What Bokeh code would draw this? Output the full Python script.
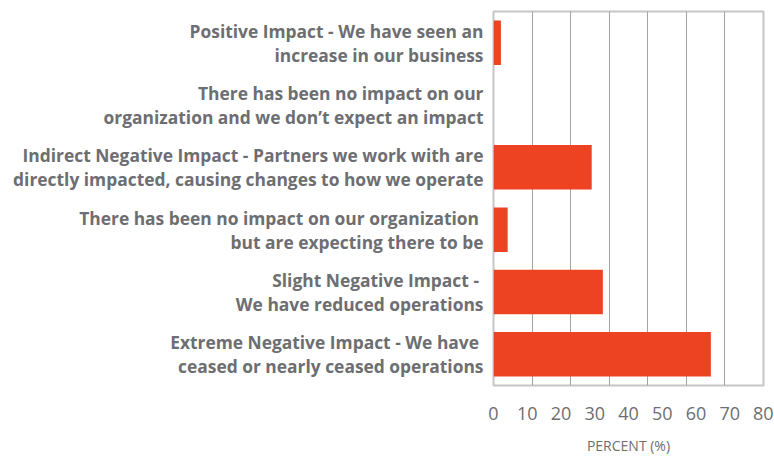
from bokeh.plotting import figure
from bokeh.models import FactorRange, Range1d, FixedTicker, ColumnDataSource
from bokeh.embed import file_html
from bokeh.resources import INLINE

# Data (top to bottom as shown)
categories = [
    "Positive Impact - We have seen an\nincrease in our business",
    "There has been no impact on our\norganization and we don\u2019t expect an impact",
    "Indirect Negative Impact - Partners we work with are\ndirectly impacted, causing changes to how we operate",
    "There has been no impact on our organization \nbut are expecting there to be",
    "Slight Negative Impact - \nWe have reduced operations",
    "Extreme Negative Impact - We have \nceased or nearly ceased operations",
]
percent = [2.2, 0.0, 29.1, 4.2, 32.4, 64.4]
x_ticks = [0, 10, 20, 30, 40, 50, 60, 70, 80]

TEXT = "#6d6e71"
BAR = "#ee4323"

src = ColumnDataSource(dict(cat=categories, pct=percent))

p = figure(
    y_range=FactorRange(factors=list(reversed(categories))),
    x_range=Range1d(0, 80),
    frame_width=270, frame_height=374,
    min_border_left=493, min_border_top=11, min_border_right=10, min_border_bottom=10,
    output_backend="svg", toolbar_location=None,
)

p.hbar(y="cat", right="pct", left=0, height=0.715, source=src,
       fill_color=BAR, line_color=None)

p.outline_line_color = "#c6c6c6"
p.outline_line_width = 2

# grid
p.ygrid.grid_line_color = None
p.xgrid.ticker = FixedTicker(ticks=[80 * i / 7 for i in range(1, 7)])
p.xgrid.grid_line_color = "#a3a3a3"
p.xgrid.grid_line_width = 1

# x axis
p.xaxis.ticker = FixedTicker(ticks=x_ticks)
p.xaxis.axis_line_color = None
p.xaxis.major_tick_line_color = None
p.xaxis.minor_tick_line_color = None
p.xaxis.major_tick_out = 0
p.xaxis.major_label_standoff = 21
p.xaxis.major_label_text_font = "Open Sans"
p.xaxis.major_label_text_font_size = "18px"
p.xaxis.major_label_text_color = TEXT
p.xaxis.axis_label = "PERCENT (%)"
p.xaxis.axis_label_text_font = "Open Sans"
p.xaxis.axis_label_text_font_style = "normal"
p.xaxis.axis_label_text_font_size = "14px"
p.xaxis.axis_label_text_color = TEXT
p.xaxis.axis_label_standoff = 13

# y axis
p.yaxis.axis_line_color = None
p.yaxis.major_tick_line_color = None
p.yaxis.minor_tick_line_color = None
p.yaxis.major_tick_out = 0
p.yaxis.major_label_standoff = 10
p.yaxis.major_label_text_font = "Open Sans"
p.yaxis.major_label_text_font_style = "bold"
p.yaxis.major_label_text_font_size = "17.4px"
p.yaxis.major_label_text_color = TEXT
p.yaxis.major_label_text_line_height = 1.0

open("out.html", "w").write(file_html(p, INLINE))
